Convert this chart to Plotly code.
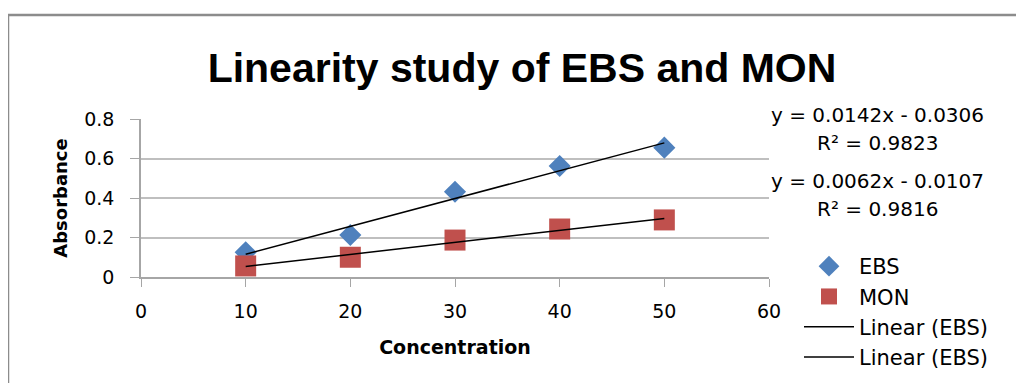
import numpy as np
import plotly.graph_objects as go

concentration = [10, 20, 30, 40, 50]
ebs_absorbance = [0.125, 0.213, 0.432, 0.562, 0.655]
mon_absorbance = [0.056, 0.100, 0.187, 0.243, 0.289]
ebs_equation = ["y = 0.0142x - 0.0306", "R² = 0.9823"]
mon_equation = ["y = 0.0062x - 0.0107", "R² = 0.9816"]
x_ticks = [0, 10, 20, 30, 40, 50, 60]
y_ticks = [0, 0.2, 0.4, 0.6, 0.8]

BLUE = "#4F81BD"
RED = "#C0504D"
TFONT = "Liberation Sans, Arial, sans-serif"
FONT = "DejaVu Sans, Verdana, sans-serif"

OFF = 8  # page body margin
W, H = 1024 - OFF, 383 - OFF
L, R, T, B = 141 - OFF, 769 - OFF, 119 - OFF, 277 - OFF
pw, ph = R - L, B - T

def px_x(p):
    return (p - OFF - L) / pw

def px_y(p):
    return (B - (p - OFF)) / ph

xs = np.array(concentration, dtype=float)
ebs_fit = np.polyfit(xs, ebs_absorbance, 1)
mon_fit = np.polyfit(xs, mon_absorbance, 1)
xline = np.array([min(concentration), max(concentration)], dtype=float)

fig = go.Figure()
fig.add_trace(go.Scatter(x=concentration, y=ebs_absorbance, mode="markers", name="EBS",
                         marker=dict(symbol="diamond", size=17, color=BLUE)))
fig.add_trace(go.Scatter(x=concentration, y=mon_absorbance, mode="markers", name="MON",
                         marker=dict(symbol="square", size=21, color=RED)))
fig.add_trace(go.Scatter(x=xline, y=np.polyval(ebs_fit, xline), mode="lines", name="Linear (EBS)",
                         line=dict(color="#000000", width=1.5)))
fig.add_trace(go.Scatter(x=xline, y=np.polyval(mon_fit, xline), mode="lines", name="Linear (EBS)",
                         line=dict(color="#000000", width=1.5)))

annotations = []
for text, yp in [(ebs_equation[0], 115), (ebs_equation[1], 143), (mon_equation[0], 181), (mon_equation[1], 209)]:
    annotations.append(dict(text=text, x=px_x(877), y=px_y(yp), xref="paper", yref="paper",
                            showarrow=False, xanchor="center", yanchor="middle",
                            font=dict(family=FONT, size=20, color="#000000")))

fig.update_layout(
    width=W, height=H,
    margin=dict(l=L, r=W - R, t=T, b=H - B, autoexpand=False),
    paper_bgcolor="white", plot_bgcolor="white",
    title=dict(text="<b>Linearity study of EBS and MON</b>", x=(522 - OFF) / W, xanchor="center",
               y=1 - (68 - OFF) / H, yanchor="middle", font=dict(family=TFONT, size=41, color="#000000")),
    xaxis=dict(range=[0, 60], tickvals=x_ticks, showgrid=False, zeroline=False,
               showline=True, linecolor="#A6A6A6", linewidth=1.5,
               ticks="outside", ticklen=8, tickcolor="#A6A6A6", ticklabelstandoff=8,
               tickfont=dict(family=FONT, size=19, color="#000000"),
               title=dict(text="<b>Concentration</b>", standoff=20,
                          font=dict(family=FONT, size=19, color="#000000"))),
    yaxis=dict(range=[0, 0.8], tickvals=y_ticks, ticktext=["0", "0.2", "0.4", "0.6", "0.8"],
               showgrid=True, gridcolor="#BFBFBF", gridwidth=1.5, zeroline=False,
               showline=True, linecolor="#A6A6A6", linewidth=1.5,
               ticks="outside", ticklen=9, tickcolor="#A6A6A6", ticklabelstandoff=12,
               tickfont=dict(family=FONT, size=19, color="#000000"),
               title=dict(text="<b>Absorbance</b>", standoff=12,
                          font=dict(family=FONT, size=18, color="#000000"))),
    legend=dict(x=(799 - OFF) / W, y=1 - (246 - OFF) / H, xref="container", yref="container",
                xanchor="left", yanchor="top",
                font=dict(family=FONT, size=21, color="#000000"),
                bgcolor="rgba(0,0,0,0)", itemwidth=50, tracegroupgap=0),
    annotations=annotations,
    shapes=[dict(type="path", xref="paper", yref="paper",
                 path=f"M {px_x(8)} {px_y(H + 20)} L {px_x(8)} {px_y(15)} L {px_x(W + 20)} {px_y(15)}",
                 line=dict(color="#8C8C8C", width=2.5))],
    showlegend=True,
)

fig.write_html("out.html")
